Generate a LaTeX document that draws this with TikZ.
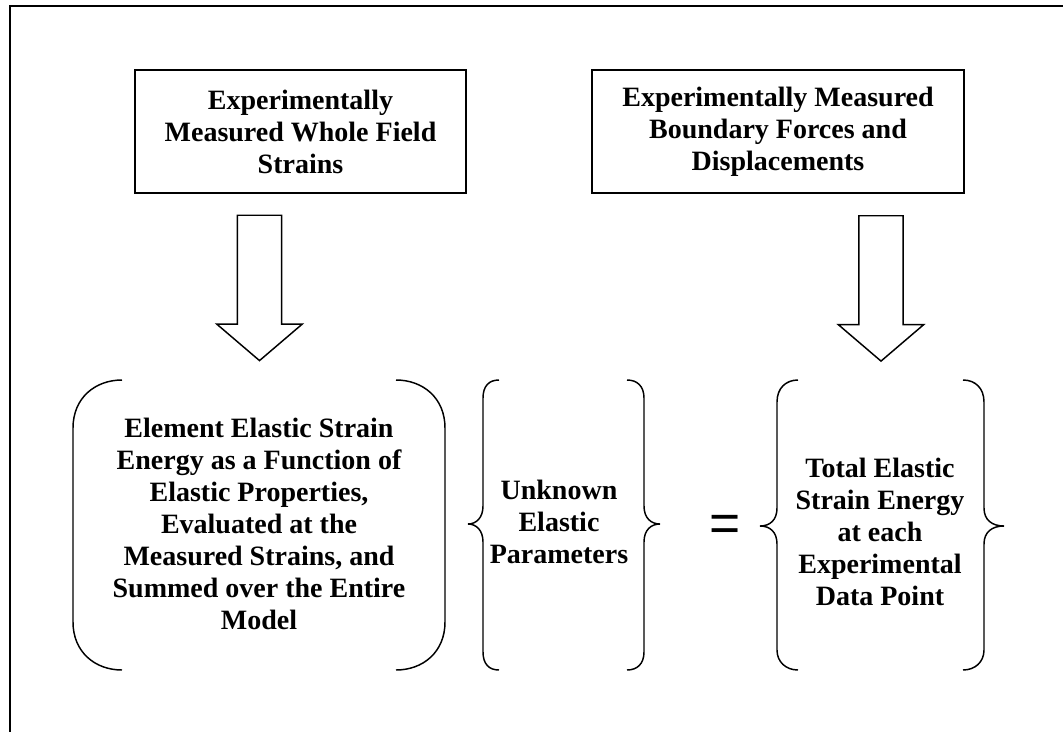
\documentclass[tikz,border=0pt]{standalone}
\usepackage{fontspec}
\setmainfont{Liberation Serif}
\newfontfamily\eqfont{Liberation Sans}
\usepackage{tikz}
\usetikzlibrary{shapes.arrows}

\begin{document}
\begin{tikzpicture}[
  x=0.75pt, y=-0.75pt,
  every node/.style={font=\fontsize{21}{24}\selectfont\bfseries},
  TB/.style={draw, line width=1.6pt, inner sep=0pt,
             minimum height=92pt, align=center},
  TX/.style={align=center, inner sep=0pt},
  BA/.style={draw, line width=1.1pt, single arrow, shape border rotate=270,
             single arrow head extend=15.4pt, single arrow tip angle=99,
             single arrow head indent=0pt, inner sep=16pt,
             minimum width=63pt, minimum height=109pt},
  brk/.style={line width=1.1pt},
]
  \useasboundingbox (0,0) rectangle (1063,732);

  % Frame
  \draw[line width=1.6pt] (1063,6) -- (10,6) -- (10,732);

  % Top boxes
  \node[TB, minimum width=248pt] (strains) at (300.5,131.5)
    {Experimentally\\Measured Whole Field\\Strains};
  \node[TB, minimum width=279pt] (forces) at (778,131.5)
    {Experimentally Measured\\Boundary Forces and\\Displacements};

  % Block arrows
  \node[BA] (arrL) at (259.5,278.5) {};
  \node[BA] (arrR) at (881,279) {};

  % Equation texts
  \node[TX] (elem) at (259,524)
    {Element Elastic Strain\\Energy as a Function of\\Elastic Properties,\\Evaluated at the\\Measured Strains, and\\Summed over the Entire\\Model};
  \node[TX] (unkn) at (559,522) {Unknown\\Elastic\\Parameters};
  \node[inner sep=0pt, font=\eqfont\fontsize{40}{40}\selectfont] (eq) at (725,528) {=};
  \node[TX] (total) at (880,532)
    {Total Elastic\\Strain Energy\\at each\\Experimental\\Data Point};

  % Round brackets round elem
  \draw[brk] (122,380) .. controls (95,380) and (73,398) .. (73,428)
    -- (73,622) .. controls (73,652) and (95,670) .. (122,670);
  \draw[brk] (396,380) .. controls (423,380) and (445,398) .. (445,428)
    -- (445,622) .. controls (445,652) and (423,670) .. (396,670);

  % Curly braces round unkn
  \draw[brk] (499,380) .. controls (489,380) and (483,386) .. (483,398)
    -- (483,506) .. controls (483,518) and (476,524) .. (468,524)
    .. controls (476,524) and (483,530) .. (483,542)
    -- (483,652) .. controls (483,664) and (489,670) .. (499,670);
  \draw[brk] (627,380) .. controls (637,380) and (644,386) .. (644,398)
    -- (644,506) .. controls (644,518) and (651,524) .. (660,524)
    .. controls (651,524) and (644,530) .. (644,542)
    -- (644,652) .. controls (644,664) and (637,670) .. (627,670);

  % Curly braces round total
  \draw[brk] (798,380) .. controls (786,380) and (777,388) .. (777,402)
    -- (777,508) .. controls (777,520) and (770,526) .. (760,526)
    .. controls (770,526) and (777,532) .. (777,544)
    -- (777,650) .. controls (777,662) and (786,670) .. (798,670);
  \draw[brk] (963,380) .. controls (975,380) and (984,388) .. (984,402)
    -- (984,508) .. controls (984,520) and (992,526) .. (1004,526)
    .. controls (992,526) and (984,532) .. (984,544)
    -- (984,650) .. controls (984,662) and (975,670) .. (963,670);

\end{tikzpicture}
\end{document}
